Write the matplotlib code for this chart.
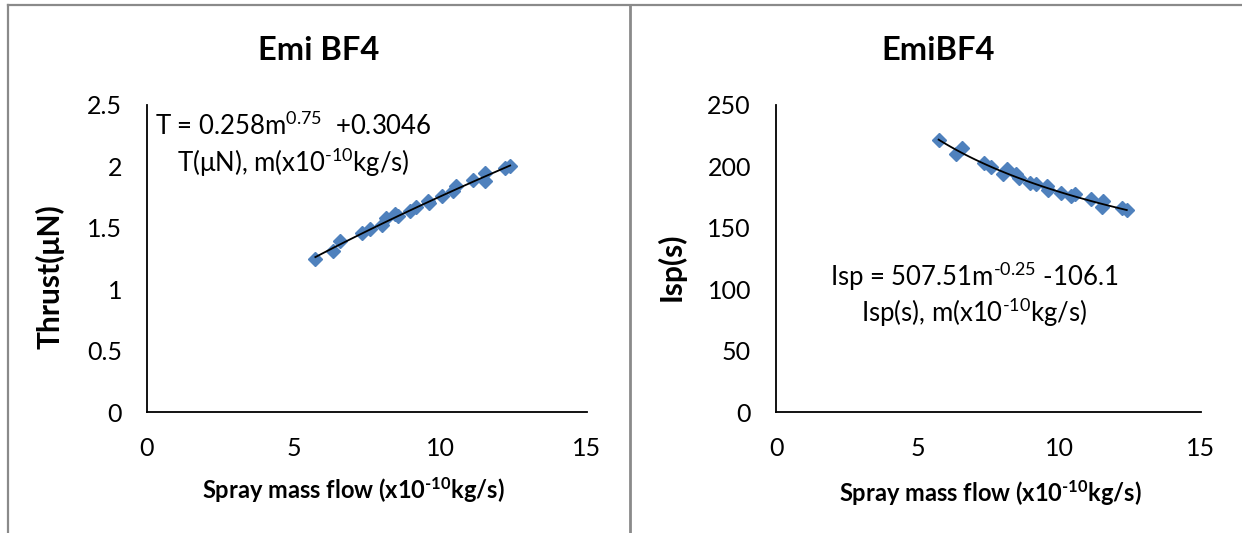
import numpy as np
import matplotlib.pyplot as plt
from matplotlib.lines import Line2D

plt.rcParams["font.family"] = ["Lato", "DejaVu Sans"]
plt.rcParams["mathtext.fontset"] = "custom"
plt.rcParams["mathtext.rm"] = "Lato"
plt.rcParams["mathtext.bf"] = "Lato:bold"
plt.rcParams["mathtext.default"] = "regular"

# spray mass flow (x10^-10 kg/s)
mass_flow = [5.74, 6.34, 6.58, 7.33, 7.60, 8.00, 8.15, 8.47, 8.56, 8.95, 9.18,
             9.57, 9.60, 10.06, 10.42, 10.55, 11.13, 11.53, 11.52, 12.20, 12.38]
# thrust (uN)
thrust = [1.25, 1.31, 1.39, 1.46, 1.49, 1.52, 1.58, 1.61, 1.60, 1.64, 1.67,
          1.72, 1.70, 1.76, 1.80, 1.84, 1.89, 1.95, 1.88, 1.99, 2.00]
# specific impulse (s)
isp = [221.4, 210.3, 215.0, 202.5, 199.8, 194.2, 197.6, 193.7, 190.6, 186.7, 185.3,
       183.7, 181.0, 178.2, 176.2, 177.6, 173.5, 172.0, 167.1, 166.5, 164.3]

# trendline coefficients shown on the chart
t_a, t_b, t_c = 0.258, 0.75, 0.3046
i_a, i_b, i_c = 507.51, -0.25, -106.1

W, H = 1242, 533
fig = plt.figure(figsize=(W / 100, H / 100), dpi=100)

blue = "#4F81BD"
tick_fs = 18

def style(ax, ymax, ystep):
    ax.set_xlim(0, 15)
    ax.set_ylim(0, ymax)
    ax.set_xticks([0, 5, 10, 15])
    ax.set_yticks(np.arange(0, ymax + ystep / 2, ystep))
    for s in ["top", "right"]:
        ax.spines[s].set_visible(False)
    for s in ["left", "bottom"]:
        ax.spines[s].set_linewidth(1.3)
    ax.tick_params(length=0, labelsize=tick_fs, pad=18)
    ax.set_facecolor("none")

fx = np.linspace(min(mass_flow), max(mass_flow), 100)

#Left chart
ax1 = fig.add_axes([147 / W, 1 - 412 / H, 440 / W, 307 / H])
style(ax1, 2.5, 0.5)
ax1.set_yticklabels(["0", "0.5", "1", "1.5", "2", "2.5"])
ax1.plot(mass_flow, thrust, "D", color=blue, ms=7, zorder=3)
ax1.plot(fx, t_a * fx ** t_b + t_c, color="black", lw=1.3, zorder=4)

#Right chart
ax2 = fig.add_axes([776 / W, 1 - 412 / H, 425 / W, 307 / H])
style(ax2, 250, 50)
ax2.plot(mass_flow, isp, "D", color=blue, ms=7, zorder=3)
ax2.plot(fx, i_a * fx ** i_b + i_c, color="black", lw=1.3, zorder=4)

# titles and labels
fig.text(319 / W, 1 - 50 / H, "Emi BF4", ha="center", va="center", fontsize=23.5, fontweight="bold")
fig.text(938 / W, 1 - 50 / H, "EmiBF4", ha="center", va="center", fontsize=23.5, fontweight="bold")
fig.text(50 / W, 1 - 277 / H, "Thrust(μN)", rotation=90, ha="center", va="center", fontsize=21.5, fontweight="bold")
fig.text(671 / W, 1 - 267 / H, "Isp(s)", rotation=90, ha="center", va="center", fontsize=21.5, fontweight="bold")
xlab = "Spray mass flow (x10$^{\\mathbf{\u201010}}$kg/s)"
fig.text(353 / W, 1 - 490 / H, xlab, ha="center", va="center", fontsize=17, fontweight="bold")
fig.text(990 / W, 1 - 493 / H, xlab, ha="center", va="center", fontsize=17, fontweight="bold")

# equations
eq_fs = 18.5
fig.text(293 / W, 1 - 126 / H, "T = 0.258m$^{0.75}$  +0.3046", ha="center", va="center", fontsize=eq_fs)
fig.text(293 / W, 1 - 163 / H, "T(μN), m(x10$^{\u201010}$kg/s)", ha="center", va="center", fontsize=eq_fs)
fig.text(974 / W, 1 - 277 / H, "Isp = 507.51m$^{\u20100.25}$ -106.1", ha="center", va="center", fontsize=eq_fs)
fig.text(974 / W, 1 - 313 / H, "Isp(s), m(x10$^{\u201010}$kg/s)", ha="center", va="center", fontsize=eq_fs)

# chart borders
gray = "#8a8a8a"
fig.add_artist(Line2D([8 / W, 8 / W], [0, 1 - 5 / H], color=gray, lw=1.6))
fig.add_artist(Line2D([8 / W, 1], [1 - 5 / H, 1 - 5 / H], color=gray, lw=1.6))
fig.add_artist(Line2D([630 / W, 630 / W], [0, 1 - 5 / H], color=gray, lw=2.0))

fig.savefig("out.png", dpi=100, facecolor="white")
